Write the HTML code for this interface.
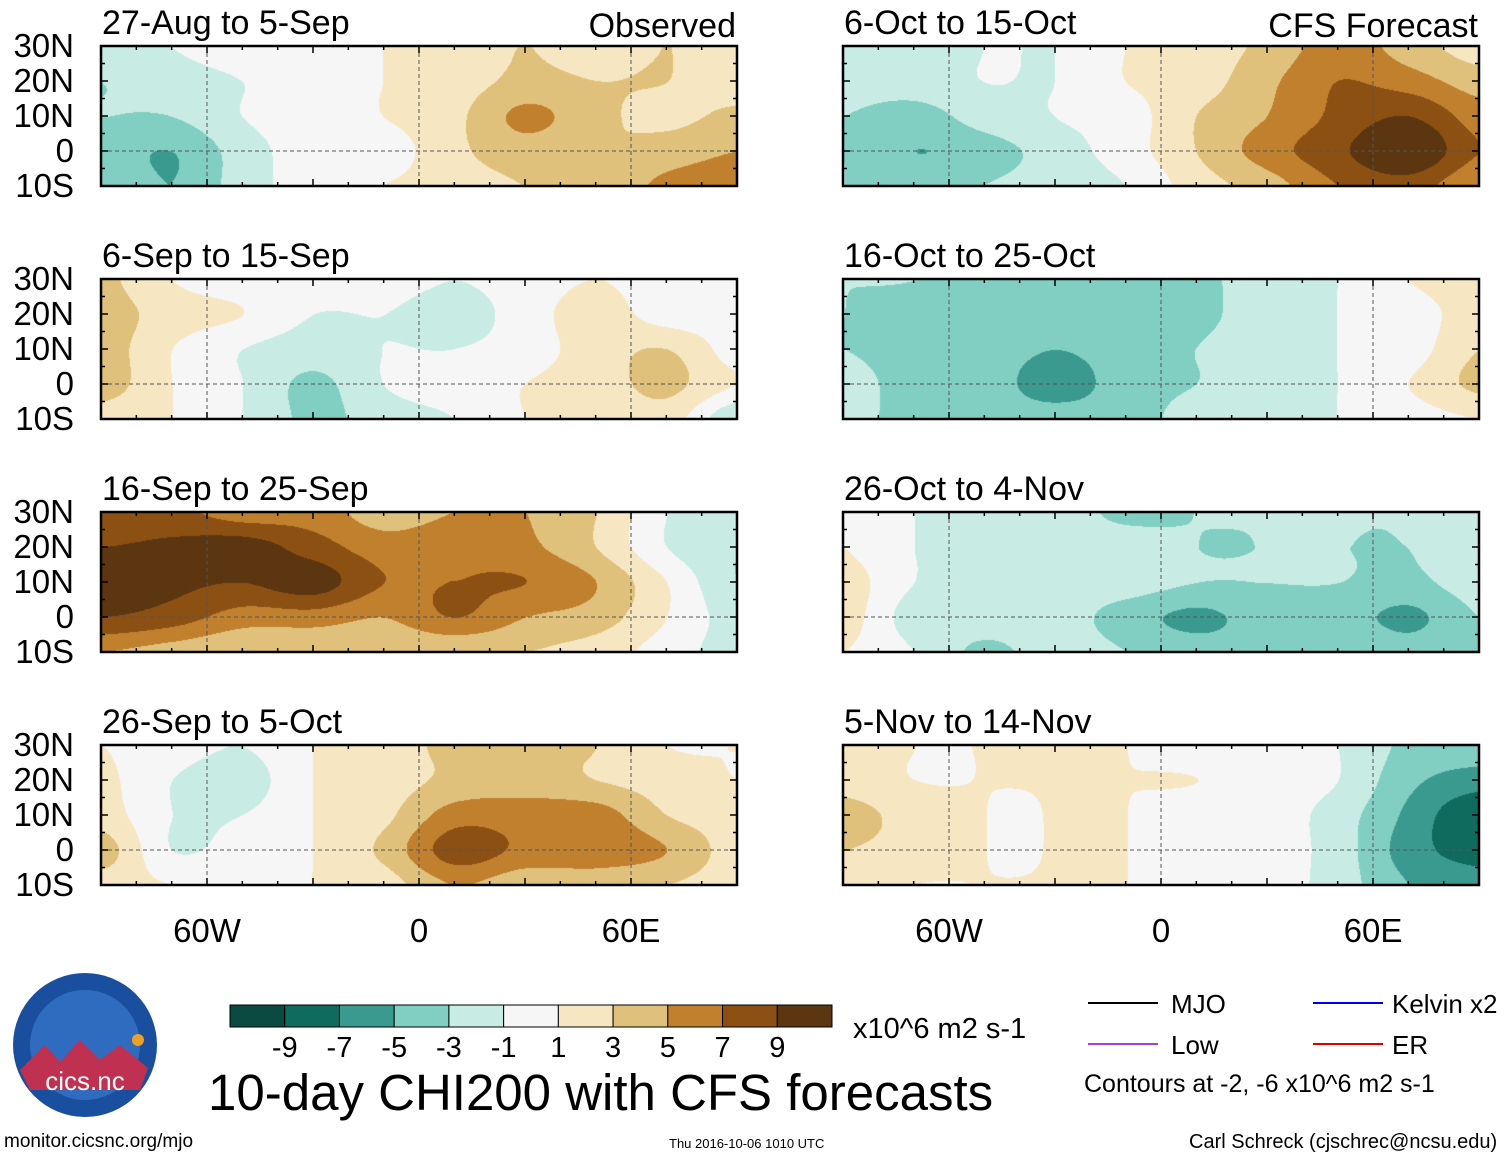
<!DOCTYPE html>
<html><head><meta charset="utf-8">
<style>
body{margin:0;background:#fff;width:1510px;height:1159px;position:relative;overflow:hidden;font-family:"Liberation Sans",sans-serif;}
.t{position:absolute;white-space:nowrap;color:#000;}
canvas{position:absolute;}
</style></head><body>
<svg id="svg" width="1510" height="1159" style="position:absolute;left:0;top:0"></svg>
<script>
const lons=[-90,-70,-50,-30,-10,10,30,50,70,90];
const lats=[30,20,10,0,-10];
const titles=["27-Aug to 5-Sep","6-Sep to 15-Sep","16-Sep to 25-Sep","26-Sep to 5-Oct","6-Oct to 15-Oct","16-Oct to 25-Oct","26-Oct to 4-Nov","5-Nov to 14-Nov"];
const p1=[[-2,-1,0,0,1,2,3,2,3,2],[-3,-2,-1,0,1,2,3.5,3,3,2],[-3,-3,-1,0,1,2.5,5.5,3.5,2.5,3.5],[-4,-5,-2,0,0,2.5,4,3,4,5],[-3,-5,-2,0,1,2,3,3.5,5.5,6]];
const p2=[[3.5,1,0,0,0,-1,0,1,0,0],[4,2,1,-1,-1,-2,0,2,0,0],[4,1,-1,-2,-1,-1,0,2,3,0],[4,1,-1,-3.5,-1,0,1,2,3.5,1],[2,1,-1,-3.5,-2,-1,1,1,2,-3]];
const p3=[[7,7.5,6,6,4,5,5,3,-1,-3],[9,9.5,10,8,6,6.5,5.5,3,-1,-3],[10,9.5,9,10,7,7,7,5,1,-3],[9,8,6,6,5,7,5,4,1,-2],[5,4,3,3,3,3,3,2,0,-2]];
const p4=[[1,0,-1,1,2,3.5,3.5,3,1,1],[1.5,-1,-2,1,2,3.5,4,3,2,1],[2,-1,-1,1,2.5,6,6,6,3,2],[4,-1,0,1,3.5,8,6.5,6.5,5,2],[2,1,1,1,2,5,3.5,3.5,3,2]];
const p5=[[-2,-3,-1,-1,1,2,3.5,6,4,2],[-2,-2,-1,-1,1,2,4.5,7,6,4],[-3,-4,-2,-1,0,3,5,7.5,9,6],[-3,-5,-4,-2,0,3,6,8.5,11,7],[-3,-4,-3,-2,-1,2,4,7,8,5]];
const p6=[[-3,-3,-4,-4,-4,-3.5,-2,-1,1,2],[-3,-4,-4,-4,-4,-3.5,-2,-1,0,2],[-3,-4,-4,-5,-4,-3,-2,-1,0,3],[-2,-4,-4,-6,-4,-3,-2,-1,1,3.5],[-2,-4,-4,-4,-4,-2,-1.5,-1,0,1]];
const p7=[[1,-1,-2,-2,-3.5,-3,-3,-3,-3,-3],[1,-1,-2,-2,-2,-3,-3,-3,-3,-2],[2,-1,-2,-2,-2,-3,-3,-3,-3.5,-2],[2,-2,-2,-2,-4,-5.5,-4,-4,-5.5,-3],[1,-1,-3.5,-2,-3,-4,-4,-3,-4,-3]];
const p8=[[2,1,1,1,1,0,0,-1,-3.5,-4],[2,1,1,1,1,1,0,-1,-4.5,-6],[4,2,1,1,1,0,0,-2,-5.5,-9],[3,2,1,1,1,0,0,-2,-6,-8],[2,1,1,1,1,0,0,-2,-5,-6]];
const fields=[p1,p2,p3,p4,p5,p6,p7,p8];
const levels=[-9,-7,-5,-3,-1,1,3,5,7,9];
const colors=["#0a4a40","#0e6b5e","#3a9a8f","#80cfc2","#c8ece4","#f6f6f6","#f6e7c2","#e0c17c","#c0802e","#8c5012","#5c3610"];
const latTicks=["30N","20N","10N","0","10S"];
const lonTicks=["60W","0","60E"], lonTickVals=[-60,0,60];
const cbLabels=["-9","-7","-5","-3","-1","1","3","5","7","9"];

const W=636,H=140;
const px=[101,843], py=[46,279,512,745];
function xs(c,lon){return px[c]+(lon+90)/180*W;}
function ys(r,lat){return py[r]+(30-lat)/40*H;}
function col(v){let i=0;while(i<levels.length&&v>=levels[i])i++;return colors[i];}
function hex(c){return [parseInt(c.substr(1,2),16),parseInt(c.substr(3,2),16),parseInt(c.substr(5,2),16)];}
function cr(p0,p1,p2,p3,t){return 0.5*((2*p1)+(-p0+p2)*t+(2*p0-5*p1+4*p2-p3)*t*t+(-p0+3*p1-3*p2+p3)*t*t*t);}
function g(f,j,i){j=Math.max(0,Math.min(f.length-1,j));i=Math.max(0,Math.min(f[0].length-1,i));return f[j][i];}
function interp(f,lon,lat){
  let fx=(lon-lons[0])/20, fy=(lats[0]-lat)/10;
  fx=Math.max(0,Math.min(lons.length-1.0001,fx)); fy=Math.max(0,Math.min(lats.length-1.0001,fy));
  const i=Math.floor(fx), j=Math.floor(fy), a=fx-i, b=fy-j;
  const rows=[];
  for(let jj=-1;jj<=2;jj++)rows.push(cr(g(f,j+jj,i-1),g(f,j+jj,i),g(f,j+jj,i+1),g(f,j+jj,i+2),a));
  return cr(rows[0],rows[1],rows[2],rows[3],b)+0.013;
}
const NS="http://www.w3.org/2000/svg";
fields.forEach((f,k)=>{
  const c=k<4?0:1, r=k%4;
  const cv=document.createElement('canvas');cv.width=W;cv.height=H;
  cv.style.left=px[c]+'px';cv.style.top=py[r]+'px';
  
  
  document.body.appendChild(cv);
  const ctx=cv.getContext('2d');const img=ctx.createImageData(W,H);
  for(let y=0;y<H;y++)for(let x=0;x<W;x++){
    const lon=-90+x/W*180, lat=30-y/H*40;
    const rgb=hex(col(interp(f,lon,lat)));const o=(y*W+x)*4;
    img.data[o]=rgb[0];img.data[o+1]=rgb[1];img.data[o+2]=rgb[2];img.data[o+3]=255;
  }
  ctx.putImageData(img,0,0);
});
const ov=document.createElementNS(NS,'svg');
ov.setAttribute('width','1510');ov.setAttribute('height','1159');
ov.setAttribute('style','position:absolute;left:0;top:0');
document.body.appendChild(ov);
function mo(tag,attrs,txt){const e=document.createElementNS(NS,tag);for(const k in attrs)e.setAttribute(k,attrs[k]);if(txt!==undefined)e.textContent=txt;ov.appendChild(e);return e;}
fields.forEach((f,k)=>{
  const c=k<4?0:1, r=k%4;
  const eq=mo('line',{x1:px[c],x2:px[c]+W,y1:ys(r,0),y2:ys(r,0),stroke:'#555','stroke-width':1,'stroke-dasharray':'4,3'});
  
  lonTickVals.forEach(v=>{mo('line',{x1:xs(c,v),x2:xs(c,v),y1:py[r],y2:py[r]+H,stroke:'#555','stroke-width':1,'stroke-dasharray':'4,3'});});
  for(let lon=-90;lon<=90;lon+=10){const x=xs(c,lon),l=lon%30==0?7:4;
    mo('line',{x1:x,x2:x,y1:py[r],y2:py[r]+l,stroke:'#000','stroke-width':1.5});
    mo('line',{x1:x,x2:x,y1:py[r]+H,y2:py[r]+H-l,stroke:'#000','stroke-width':1.5});}
  for(let lat=-10;lat<=30;lat+=5){const y=ys(r,lat),l=lat%10==0?7:4;
    mo('line',{x1:px[c],x2:px[c]+l,y1:y,y2:y,stroke:'#000','stroke-width':1.5});
    mo('line',{x1:px[c]+W,x2:px[c]+W-l,y1:y,y2:y,stroke:'#000','stroke-width':1.5});}
  const fr=mo('rect',{x:px[c],y:py[r],width:W,height:H,fill:'none',stroke:'#000','stroke-width':2.5});
  
  const t=mo('text',{x:px[c]+1,y:py[r]-12,'font-size':34,'font-family':'Liberation Sans'},titles[k]);
  
  if(c==0){latTicks.forEach((lb,i)=>{const tt=mo('text',{x:74,y:ys(r,lats[i])+11,'font-size':33,'text-anchor':'end','font-family':'Liberation Sans'},lb);
    });}
});
[[736,"Observed"],[1478,"CFS Forecast"]].forEach(a=>{const t=mo('text',{x:a[0],y:37,'font-size':34,'text-anchor':'end','font-family':'Liberation Sans'},a[1]);
  });
[0,1].forEach(c=>lonTicks.forEach((lb,i)=>{const t=mo('text',{x:xs(c,lonTickVals[i]),y:942,'font-size':33,'text-anchor':'middle','font-family':'Liberation Sans'},lb);
  }));
const cbx=230,cbw=602,cby=1005,cbh=22,bw=cbw/colors.length;
colors.forEach((cc,i)=>{const b=mo('rect',{x:cbx+i*bw,y:cby,width:bw,height:cbh,fill:cc,stroke:'#000','stroke-width':1});
  });
cbLabels.forEach((lb,i)=>{const t=mo('text',{x:cbx+(i+1)*bw,y:1057,'font-size':29,'text-anchor':'middle','font-family':'Liberation Sans'},lb);
  });
</script>
<div class="t" style="left:853px;top:1013px;font-size:29px">x10^6 m2 s-1</div>
<div class="t" style="left:208px;top:1063px;font-size:51px">10-day CHI200 with CFS forecasts</div>
<div class="t" style="left:4px;top:1131px;font-size:19px">monitor.cicsnc.org/mjo</div>
<div class="t" style="left:669px;top:1136px;font-size:13px">Thu 2016-10-06 1010 UTC</div>
<div class="t" style="left:1189px;top:1131px;font-size:20px">Carl Schreck (cjschrec@ncsu.edu)</div>
<svg width="1510" height="1159" style="position:absolute;left:0;top:0;pointer-events:none">
<g font-family="Liberation Sans" font-size="26">
<line x1="1088" x2="1158" y1="1003" y2="1003" stroke="#000" stroke-width="2"/><text x="1171" y="1013">MJO</text>
<line x1="1313" x2="1383" y1="1003" y2="1003" stroke="#0000ee" stroke-width="2"/><text x="1392" y="1013">Kelvin x2</text>
<line x1="1088" x2="1158" y1="1044" y2="1044" stroke="#a040e0" stroke-width="2"/><text x="1171" y="1054">Low</text>
<line x1="1313" x2="1383" y1="1044" y2="1044" stroke="#e00000" stroke-width="2"/><text x="1392" y="1054">ER</text>
<text x="1084" y="1092" font-size="25">Contours at -2, -6 x10^6 m2 s-1</text>
</g>
<g>
<circle cx="85" cy="1045" r="72" fill="#1a4fa0"/>
<circle cx="85" cy="1045" r="55" fill="#2f6cc0"/>
<path d="M20 1070 L45 1045 L60 1062 L80 1040 L100 1060 L120 1045 L148 1068 L140 1090 L30 1090Z" fill="#c03050"/>
<circle cx="138" cy="1040" r="6" fill="#f0a020"/>
<text x="85" y="1090" text-anchor="middle" font-family="Liberation Sans" font-size="26" fill="#fff">cics.nc</text>
</g>
</svg>
</body></html>
